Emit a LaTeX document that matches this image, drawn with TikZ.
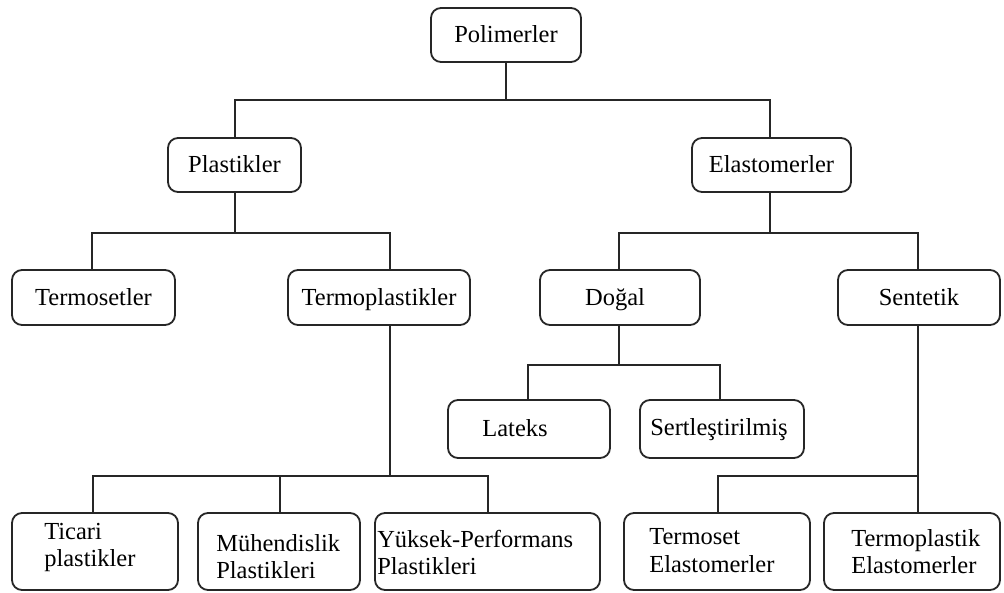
\documentclass[tikz,border=0pt]{standalone}
\usepackage{fontspec}
\setmainfont{Liberation Serif}
\begin{document}
\begin{tikzpicture}[x=1pt,y=-1pt,
  box/.style={draw=black!85,line width=1.8pt,rounded corners=10pt,inner sep=0pt,anchor=center,text height=18pt,text depth=3pt,font=\fontsize{24.5}{26}\selectfont},
  lbl/.style={inner sep=0pt,align=left,font=\fontsize{24.5}{27.5}\selectfont},
  sl/.style={inner sep=0pt,text height=18pt,text depth=3pt,font=\fontsize{24.5}{26}\selectfont},
  conn/.style={draw=black!85,line width=1.8pt}]
\useasboundingbox (0,0) rectangle (1004,592);
% boxes
\node[box,minimum width=150,minimum height=54] (pol) at (506,35) {Polimerler};
\node[box,minimum width=133,minimum height=54] (plast) at (234.5,165) {Plastikler};
\node[box,minimum width=159,minimum height=54] (elast) at (771.5,165) {Elastomerler};
\node[box,minimum width=163,minimum height=55] (tset) at (93.5,297.5) {Termosetler};
\node[box,minimum width=182,minimum height=55] (tplast) at (379,297.5) {Termoplastikler};
\node[box,minimum width=160,minimum height=55] (dogal) at (620,297.5) {};
\node[sl] (dogalt) at ([xshift=-5]dogal.center) {Doğal};
\node[box,minimum width=162,minimum height=55] (sent) at (919,297.5) {Sentetik};
\node[box,minimum width=162,minimum height=58] (lat) at (529,429) {};
\node[sl] (latt) at ([xshift=-14]lat.center) {Lateks};
\node[box,minimum width=164,minimum height=58] (sert) at (722,429) {};
\node[sl] (sertt) at ([xshift=-3,yshift=1]sert.center) {Sertleştirilmiş};
\node[box,minimum width=166,minimum height=77] (tic) at (95,551.5) {};
\node[lbl,anchor=west] (tict) at ([xshift=33,yshift=4]tic.west) {Ticari\\plastikler};
\node[box,minimum width=162,minimum height=77] (muh) at (279,551.5) {};
\node[lbl,anchor=west] (muht) at ([xshift=19,yshift=-5]muh.west) {Mühendislik\\Plastikleri};
\node[box,minimum width=225,minimum height=77] (yuk) at (487.5,551.5) {};
\node[lbl,anchor=west] (yukt) at ([xshift=3,yshift=-1]yuk.west) {Yüksek-Performans\\Plastikleri};
\node[box,minimum width=186,minimum height=77] (tse) at (717,551.5) {};
\node[lbl,anchor=west] (tset2) at ([xshift=26,yshift=1]tse.west) {Termoset\\Elastomerler};
\node[box,minimum width=176,minimum height=77] (tpe) at (912,551.5) {};
\node[lbl,anchor=west] (tpet) at ([xshift=28,yshift=0]tpe.west) {Termoplastik\\Elastomerler};
% junctions
\coordinate (j1) at (506,100);
\coordinate (j2) at (235,233);
\coordinate (j3) at (770,233);
\coordinate (j4) at (619,365);
\coordinate (j5) at (390,476);
\coordinate (j6) at (918,476);
% connectors
\draw[conn] (pol.south -| j1) -- (j1);
\draw[conn] (plast.north -| j2) |- (j1) -| (elast.north -| j3);
\draw[conn] (plast.south -| j2) -- (j2);
\draw[conn] (tset.north -| 92,0) |- (j2) -| (tplast.north -| j5);
\draw[conn] (elast.south -| j3) -- (j3);
\draw[conn] (dogal.north -| j4) |- (j3) -| (sent.north -| j6);
\draw[conn] (dogal.south -| j4) -- (j4);
\draw[conn] (lat.north -| 528,0) |- (j4) -| (sert.north -| 720,0);
\draw[conn] (tplast.south -| j5) -- (j5);
\draw[conn] (tic.north -| 93,0) |- (j5) -| (yuk.north -| 488,0);
\draw[conn] (muh.north -| 280,0) -- (280,476);
\draw[conn] (sent.south -| j6) -- (tpe.north -| j6);
\draw[conn] (tse.north -| 718,0) |- (j6);
\end{tikzpicture}
\end{document}
